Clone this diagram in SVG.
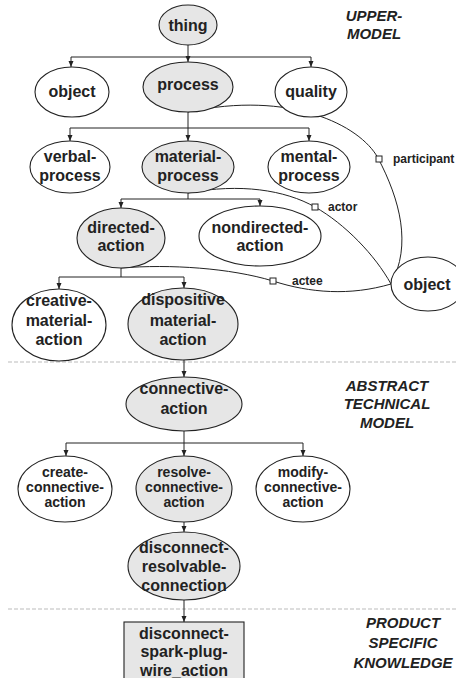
<svg xmlns="http://www.w3.org/2000/svg" width="456" height="678" viewBox="0 0 456 678">
<style>
.n{stroke:#222;stroke-width:1.1}
.g{fill:#e6e6e6}
.w{fill:#fff}
.t{font-family:"Liberation Sans",Arial,sans-serif;font-weight:bold;font-size:16px;fill:#222;text-anchor:middle}
.s{font-size:14px}
.lab{font-family:"Liberation Sans",Arial,sans-serif;font-weight:bold;font-size:12px;fill:#222}
.sec{font-family:"Liberation Sans",Arial,sans-serif;font-weight:bold;font-style:italic;font-size:15px;fill:#222;text-anchor:middle}
.c{fill:none;stroke:#222;stroke-width:1}
.a{marker-end:url(#ah)}
.d{stroke:#bbb;stroke-width:1;stroke-dasharray:4 2}
.sq{fill:#fff;stroke:#222;stroke-width:1}
</style>
<defs>
<marker id="ah" markerUnits="userSpaceOnUse" markerWidth="6" markerHeight="6" refX="6" refY="3" orient="auto">
<path d="M0,0.5 L6,3 L0,5.5 z" fill="#222"/>
</marker>
</defs>
<g id="separators">
<line class="d" x1="8" y1="362" x2="456" y2="362"/>
<line class="d" x1="8" y1="609" x2="456" y2="609"/>
</g>
<g id="sections">
<text class="sec" x="374" y="21">UPPER-</text>
<text class="sec" x="374" y="39">MODEL</text>
<text class="sec" x="387" y="391">ABSTRACT</text>
<text class="sec" x="387" y="409">TECHNICAL</text>
<text class="sec" x="387" y="428">MODEL</text>
<text class="sec" x="403" y="628">PRODUCT</text>
<text class="sec" x="403" y="648">SPECIFIC</text>
<text class="sec" x="403" y="668">KNOWLEDGE</text>
</g>
<g id="connectors">
<path class="c" d="M188,45 V57 M71,57 H311"/>
<path class="c a" d="M71,57 V67"/>
<path class="c a" d="M188,57 V62"/>
<path class="c a" d="M311,57 V67"/>
<path class="c" d="M188,112 V128 M70,128 H309"/>
<path class="c a" d="M70,128 V141"/>
<path class="c a" d="M188,128 V141"/>
<path class="c a" d="M309,128 V141"/>
<path class="c" d="M188,193 V199 M121,199 H260"/>
<path class="c a" d="M121,199 V208"/>
<path class="c a" d="M260,199 V206"/>
<path class="c" d="M121,268 V277 M59,277 H184"/>
<path class="c a" d="M59,277 V289"/>
<path class="c a" d="M184,277 V288"/>
<path class="c a" d="M184,360 V377"/>
<path class="c" d="M184,431 V443 M66,443 H303"/>
<path class="c a" d="M66,443 V456"/>
<path class="c a" d="M184,443 V456"/>
<path class="c a" d="M303,443 V456"/>
<path class="c a" d="M184,522 V532"/>
<path class="c a" d="M184,600 V622"/>
<path class="c" d="M188,112 C290,90 360,125 378,158 C400,200 412,245 391,284"/>
<path class="c" d="M188,193 C240,183 285,190 315,207 C345,224 375,255 391,284"/>
<path class="c" d="M121,268 C170,264 230,268 273,281 C310,293 350,296 391,284"/>
<rect class="sq" x="376" y="156" width="6" height="6"/>
<rect class="sq" x="312" y="204" width="6" height="6"/>
<rect class="sq" x="270" y="278" width="6" height="6"/>
<text class="lab" x="393" y="163">participant</text>
<text class="lab" x="328" y="211">actor</text>
<text class="lab" x="292" y="285">actee</text>
</g>
<g id="thing"><ellipse class="n g" cx="188" cy="25" rx="29" ry="20"/><text class="t" x="188" y="31">thing</text></g>
<g id="object"><ellipse class="n w" cx="72" cy="92" rx="37" ry="25"/><text class="t" x="72" y="97">object</text></g>
<g id="process"><ellipse class="n g" cx="188" cy="87" rx="45" ry="25"/><text class="t" x="188" y="90">process</text></g>
<g id="quality"><ellipse class="n w" cx="311" cy="92" rx="36" ry="25"/><text class="t" x="311" y="97">quality</text></g>
<g id="verbal-process"><ellipse class="n w" cx="70" cy="167" rx="40" ry="26"/><text class="t" x="70" y="162">verbal-</text><text class="t" x="70" y="181">process</text></g>
<g id="material-process"><ellipse class="n g" cx="188" cy="167" rx="46" ry="26"/><text class="t" x="188" y="162">material-</text><text class="t" x="188" y="181">process</text></g>
<g id="mental-process"><ellipse class="n w" cx="309" cy="167" rx="41" ry="26"/><text class="t" x="309" y="162">mental-</text><text class="t" x="309" y="181">process</text></g>
<g id="directed-action"><ellipse class="n g" cx="121" cy="238" rx="44" ry="30"/><text class="t" x="121" y="233">directed-</text><text class="t" x="121" y="251">action</text></g>
<g id="nondirected-action"><ellipse class="n w" cx="260" cy="236" rx="61" ry="30"/><text class="t" x="260" y="233">nondirected-</text><text class="t" x="260" y="251">action</text></g>
<g id="object-2"><ellipse class="n w" cx="428" cy="284" rx="37" ry="27"/><text class="t" x="427" y="290">object</text></g>
<g id="creative-material-action"><ellipse class="n w" cx="59" cy="325" rx="47" ry="36"/><text class="t" x="59" y="306">creative-</text><text class="t" x="59" y="326">material-</text><text class="t" x="59" y="345">action</text></g>
<g id="dispositive-material-action"><ellipse class="n g" cx="183" cy="324" rx="55" ry="36"/><text class="t" x="183" y="305">dispositive</text><text class="t" x="183" y="326">material-</text><text class="t" x="183" y="345">action</text></g>
<g id="connective-action"><ellipse class="n g" cx="184" cy="404" rx="58" ry="27"/><text class="t" x="184" y="394">connective-</text><text class="t" x="184" y="414">action</text></g>
<g id="create-connective-action"><ellipse class="n w" cx="65" cy="489" rx="47" ry="33"/><text class="t s" x="65" y="477">create-</text><text class="t s" x="65" y="492">connective-</text><text class="t s" x="65" y="507">action</text></g>
<g id="resolve-connective-action"><ellipse class="n g" cx="184" cy="489" rx="48" ry="33"/><text class="t s" x="184" y="477">resolve-</text><text class="t s" x="184" y="492">connective-</text><text class="t s" x="184" y="507">action</text></g>
<g id="modify-connective-action"><ellipse class="n w" cx="303" cy="489" rx="47" ry="33"/><text class="t s" x="303" y="477">modify-</text><text class="t s" x="303" y="492">connective-</text><text class="t s" x="303" y="507">action</text></g>
<g id="disconnect-resolvable-connection"><ellipse class="n g" cx="184" cy="566" rx="56" ry="34"/><text class="t" x="184" y="553">disconnect-</text><text class="t" x="184" y="572">resolvable-</text><text class="t" x="184" y="591">connection</text></g>
<g id="disconnect-spark-plug-wire_action"><rect class="n g" x="124" y="622" width="120" height="60" stroke-width="1.5"/><text class="t" x="184" y="639">disconnect-</text><text class="t" x="184" y="657">spark-plug-</text><text class="t" x="184" y="676">wire_action</text></g>
</svg>
